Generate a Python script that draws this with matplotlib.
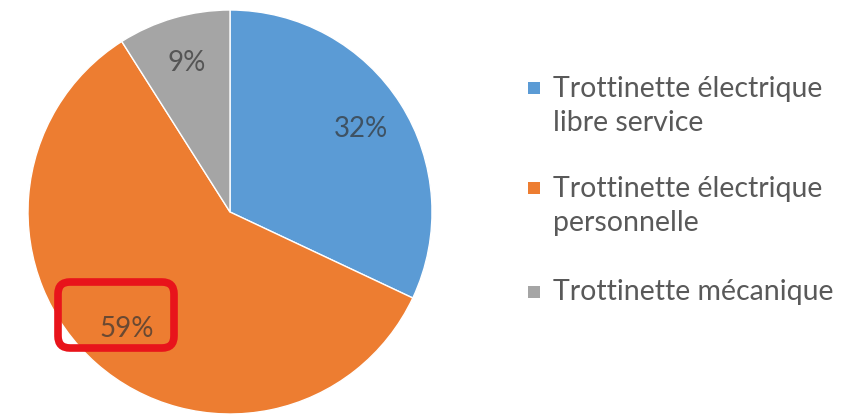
import matplotlib
matplotlib.use("Agg")
import matplotlib.pyplot as plt
from matplotlib.patches import FancyBboxPatch, Rectangle

categories = ["Trottinette électrique\nlibre service",
              "Trottinette électrique\npersonnelle",
              "Trottinette mécanique"]
values = [32, 59, 9]
colors = ["#5B9BD5", "#ED7D31", "#A5A5A5"]

W, H = 860, 420
fig = plt.figure(figsize=(W / 100, H / 100), dpi=100)
fig.patch.set_facecolor("white")

cx, cy, r = 230, 212, 202
ax = fig.add_axes([(cx - r) / W, (H - cy - r) / H, 2 * r / W, 2 * r / H])
wedges, texts, autotexts = ax.pie(
    values, colors=colors, startangle=90, counterclock=False,
    autopct=lambda p: f"{p:.0f}%", pctdistance=0.77,
    wedgeprops=dict(edgecolor="white", linewidth=1),
    textprops=dict(color="#333333", fontsize=20, family="Lato"))
for t in autotexts:
    t.set_alpha(0.7)
ax.set_xlim(-1, 1)
ax.set_ylim(-1, 1)
ax.set_aspect("equal")
ax.axis("off")

# highlight box around 59%
box = FancyBboxPatch((58, H - 348), 116, 66,
                     boxstyle="round,pad=0,rounding_size=12",
                     transform=None, fill=False, edgecolor="#E8141B",
                     linewidth=5.5, zorder=10)
fig.patches.append(box)

# manual legend
centers = [106, 206, 292]
marker_y = [88, 188, 292]
for lab, col, yc, ym in zip(categories, colors, centers, marker_y):
    sq = Rectangle((528, H - ym - 6), 12, 12, transform=None,
                   facecolor=col, edgecolor="none")
    fig.patches.append(sq)
    fig.text(553 / W, (H - yc) / H, lab, ha="left", va="center",
             fontsize=20.5, family="Lato", color="#595959", linespacing=1.42)

fig.savefig("out.png", dpi=100, facecolor="white")
